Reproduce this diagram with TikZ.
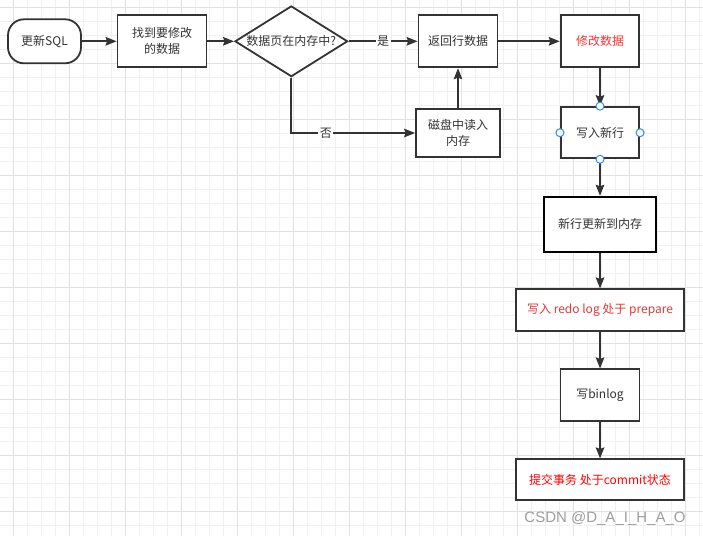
\documentclass[tikz,border=0pt]{standalone}
\usepackage{fontspec}
\setmainfont{Noto Sans CJK SC}
\newfontfamily\wmfont{Liberation Sans}
\usetikzlibrary{arrows.meta,shapes.geometric}
\definecolor{ln}{HTML}{333333}
\definecolor{txt}{HTML}{333333}
\definecolor{gminor}{HTML}{F0F0F0}
\definecolor{gmajor}{HTML}{E2E2E2}
\definecolor{redA}{HTML}{FF3333}
\definecolor{redB}{HTML}{E53935}
\definecolor{redC}{HTML}{FF0000}
\definecolor{cpblue}{HTML}{2B8CFF}
\definecolor{wm}{HTML}{9E9E9E}
\tikzset{
  box/.style={draw=ln, line width=1.8pt, fill=white, text=txt, inner sep=0pt,
    align=center, font=\fontsize{12}{16}\selectfont},
  arr/.style={draw=ln, line width=1.8pt, -{Stealth[length=11pt,width=8.5pt,inset=1.5pt]}},
  lbl/.style={fill=white, text=txt, inner sep=1.5pt, font=\fontsize{12}{14}\selectfont},
  cpt/.style={circle, draw=cpblue, fill=white, line width=1pt, minimum size=8pt, inner sep=0pt},
}
\begin{document}
\begin{tikzpicture}[x=1pt,y=-1pt]
\useasboundingbox[fill=white] (0,0) rectangle (703,536);
% grid
\foreach \k in {0,...,50} \draw[gminor, line width=1pt] ({-0.7+14*\k},0) -- ({-0.7+14*\k},536);
\foreach \k in {0,...,38} \draw[gminor, line width=1pt] (0,{7.3+14*\k}) -- (703,{7.3+14*\k});
\foreach \k in {0,...,12} \draw[gmajor, line width=1pt] ({13.3+56*\k},0) -- ({13.3+56*\k},536);
\foreach \k in {0,...,9} \draw[gmajor, line width=1pt] (0,{7.3+56*\k}) -- (703,{7.3+56*\k});
% nodes
\node[box, rounded corners=16pt, minimum width=73pt, minimum height=44pt] (sql) at (44.5,41.3) {更新SQL};
\node[box, minimum width=89pt, minimum height=52pt] (find) at (162,41.3) {找到要修改\\的数据};
\node[box, shape=diamond, aspect=1.594, minimum width=112.7pt, minimum height=70.7pt] (dia) at (291.3,41.3) {数据页在内存中?};
\node[box, minimum width=79pt, minimum height=52pt] (ret) at (458,41.3) {返回行数据};
\node[box, minimum width=78.7pt, minimum height=52pt, text=redA] (mod) at (600,41.3) {修改数据};
\node[box, minimum width=84pt, minimum height=48.7pt] (disk) at (458,133) {磁盘中读入\\内存};
\node[box, minimum width=78.3pt, minimum height=51.3pt] (new) at (600,132.7) {写入新行};
\node[box, draw=black, minimum width=111.4pt, minimum height=55pt] (mem) at (600,224.2) {新行更新到内存};
\node[box, minimum width=168.7pt, minimum height=41.7pt, text=redB] (redo) at (600,310.2) {写入 redo log 处于 prepare};
\node[box, minimum width=79pt, minimum height=51.7pt] (bin) at (600,395.2) {写binlog};
\node[box, minimum width=168.7pt, minimum height=40.7pt, text=redC] (commit) at (600,479.7) {提交事务 处于commit状态};
% connectors
\draw[arr] (sql) -- (find);
\draw[arr] (find) -- (dia);
\draw[arr] (dia) -- node[lbl]{是} (ret);
\draw[arr] (dia.south) |- node[lbl, pos=0.64]{否} (disk.west);
\draw[arr] (disk) -- (ret);
\draw[arr] (ret) -- (mod);
\draw[arr] (mod) -- (new);
\draw[arr] (new) -- (mem);
\draw[arr] (mem) -- (redo);
\draw[arr] (redo) -- (bin);
\draw[arr] (bin) -- (commit);
% connection points
\node[cpt] (cpn) at (new.north) {};
\node[cpt] (cps) at (new.south) {};
\node[cpt] (cpw) at (new.west) {};
\node[cpt] (cpe) at (new.east) {};
% watermark
\node[text=wm, font=\wmfont\fontsize{15}{15}\selectfont, inner sep=0pt] (wmk) at (605,518.3) {CSDN @D\_A\_I\_H\_A\_O};
\end{tikzpicture}
\end{document}
